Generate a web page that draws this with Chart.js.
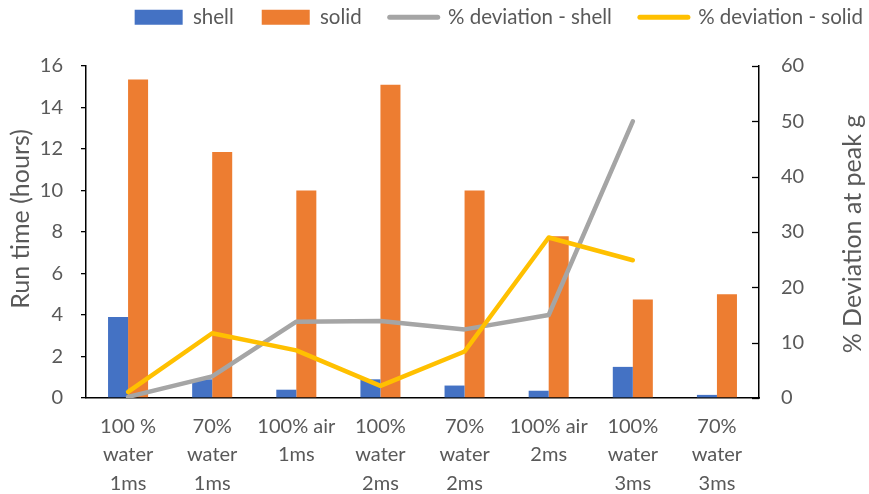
<!DOCTYPE html>
<html>
<head>
<meta charset="utf-8">
<script src="https://cdn.jsdelivr.net/npm/chart.js@4.4.1/dist/chart.umd.min.js"></script>
<style>
  html, body { margin: 0; padding: 0; background: #fff; }
  #wrap { width: 869px; height: 494px; position: relative; }
</style>
</head>
<body>
<div id="wrap"><canvas id="c"></canvas></div>
<script>
// Run configurations (multi-line category labels)
const categories = [
  ['100 %', 'water', '1ms'],
  ['70%', 'water', '1ms'],
  ['100% air', '1ms'],
  ['100%', 'water', '2ms'],
  ['70%', 'water', '2ms'],
  ['100% air', '2ms'],
  ['100%', 'water', '3ms'],
  ['70%', 'water', '3ms']
];

// Run time in hours
const shellHours = [3.9, 0.9, 0.4, 0.9, 0.6, 0.35, 1.5, 0.15];
const solidHours = [15.35, 11.85, 10, 15.1, 10, 7.8, 4.75, 5];

// Percentage deviation at peak g
const deviationShell = [0.2, 3.9, 13.8, 13.9, 12.4, 15, 50, null];
const deviationSolid = [1.1, 11.7, 8.6, 2.2, 8.4, 29, 24.9, null];

// Axis ranges and steps
const runTimeTicks = { min: 0, max: 16, step: 2 };
const deviationTicks = { min: 0, max: 60, step: 10 };

// Axis titles
const leftTitle = 'Run time (hours)';
const rightTitle = '% Deviation at peak g';

const FONT = 'Lato, "Open Sans", sans-serif';
const TEXT = '#595959';

// Small inward ticks on the secondary axis
const innerTicks = {
  id: 'innerTicks',
  afterDraw(chart) {
    const s = chart.scales.y1;
    const ctx = chart.ctx;
    ctx.save();
    ctx.strokeStyle = '#000';
    ctx.lineWidth = 1.3;
    for (let v = deviationTicks.min; v <= deviationTicks.max; v += deviationTicks.step) {
      const y = Math.round(s.getPixelForValue(v)) + 0.5;
      ctx.beginPath();
      ctx.moveTo(s.left - 7, y);
      ctx.lineTo(s.left, y);
      ctx.stroke();
    }
    ctx.restore();
  }
};

// Vertical axis titles, both reading bottom to top
const axisTitles = {
  id: 'axisTitles',
  afterDraw(chart) {
    const ctx = chart.ctx;
    const area = chart.chartArea;
    const midY = (area.top + area.bottom) / 2;
    const put = (text, x, y) => {
      ctx.save();
      ctx.translate(x, y);
      ctx.rotate(-Math.PI / 2);
      ctx.font = '25px ' + FONT;
      ctx.fillStyle = TEXT;
      ctx.textAlign = 'center';
      ctx.textBaseline = 'middle';
      ctx.fillText(text, 0, 0);
      ctx.restore();
    };
    put(leftTitle, 21, midY - 13);
    put(rightTitle, chart.width - 16, midY + 2);
  }
};

// Legend box sizing and placement
const legendPlace = {
  id: 'legendPlace',
  beforeInit(chart) {
    const fit = chart.legend.fit;
    chart.legend.fit = function () {
      fit.bind(chart.legend)();
      this.height = 66;
    };
  },
  afterLayout(chart) {
    const lg = chart.legend;
    lg.left += 22;
    lg.right += 22;
    lg.top = -21;
  }
};

new Chart(document.getElementById('c'), {
  data: {
    labels: categories,
    datasets: [
      { type: 'bar', label: 'shell', data: shellHours, backgroundColor: '#4472C4', yAxisID: 'y', order: 2 },
      { type: 'bar', label: 'solid', data: solidHours, backgroundColor: '#ED7D31', yAxisID: 'y', order: 2 },
      { type: 'line', label: '% deviation - shell', data: deviationShell, borderColor: '#A5A5A5',
        backgroundColor: '#A5A5A5', borderWidth: 4.5, pointRadius: 0, tension: 0,
        borderCapStyle: 'round', borderJoinStyle: 'round', yAxisID: 'y1', order: 1 },
      { type: 'line', label: '% deviation - solid', data: deviationSolid, borderColor: '#FFC000',
        backgroundColor: '#FFC000', borderWidth: 4.5, pointRadius: 0, tension: 0,
        borderCapStyle: 'round', borderJoinStyle: 'round', yAxisID: 'y1', order: 0 }
    ]
  },
  options: {
    responsive: true,
    maintainAspectRatio: false,
    animation: false,
    devicePixelRatio: 1,
    layout: { padding: 0 },
    datasets: { bar: { categoryPercentage: 0.476, barPercentage: 1.0, borderWidth: 0 } },
    plugins: {
      tooltip: { enabled: false },
      legend: {
        position: 'top',
        align: 'end',
        labels: {
          color: TEXT,
          font: { family: FONT, size: 20.5 },
          padding: 28,
          usePointStyle: true,
          pointStyleWidth: 48,
          boxHeight: 15,
          sort: (a, b) => a.datasetIndex - b.datasetIndex,
          generateLabels(chart) {
            const items = Chart.defaults.plugins.legend.labels.generateLabels(chart);
            items.forEach(it => {
              const ds = chart.data.datasets[it.datasetIndex];
              if (ds.type === 'line') {
                it.pointStyle = 'line';
                it.lineWidth = 5;
                it.strokeStyle = ds.borderColor;
                it.fillStyle = ds.borderColor;
                it.lineCap = 'round';
              } else {
                it.pointStyle = 'rect';
                it.lineWidth = 0;
                it.fillStyle = ds.backgroundColor;
              }
            });
            return items;
          }
        }
      }
    },
    scales: {
      x: {
        grid: { display: false },
        border: { display: true, color: '#000', width: 1.5 },
        ticks: { color: TEXT, font: { family: FONT, size: 20, lineHeight: 28.5 / 20 }, padding: 6, maxRotation: 0, autoSkip: false },
        afterFit(s) { s.height = 96; }
      },
      y: {
        position: 'left',
        min: runTimeTicks.min, max: runTimeTicks.max,
        ticks: { stepSize: runTimeTicks.step, color: TEXT, font: { family: FONT, size: 20 }, padding: 18 },
        grid: { drawOnChartArea: false, drawTicks: true, tickLength: 5, color: '#000', lineWidth: 1.3 },
        border: { display: true, color: '#000', width: 1.5 },
        afterFit(s) { s.width = 86; }
      },
      y1: {
        position: 'right',
        min: deviationTicks.min, max: deviationTicks.max,
        ticks: { stepSize: deviationTicks.step, color: TEXT, font: { family: FONT, size: 20 }, padding: 22 },
        grid: { drawOnChartArea: false, drawTicks: false },
        border: { display: true, color: '#000', width: 1.5 },
        afterFit(s) { s.width = 110; }
      }
    }
  },
  plugins: [legendPlace, innerTicks, axisTitles]
});
</script>
</body>
</html>
